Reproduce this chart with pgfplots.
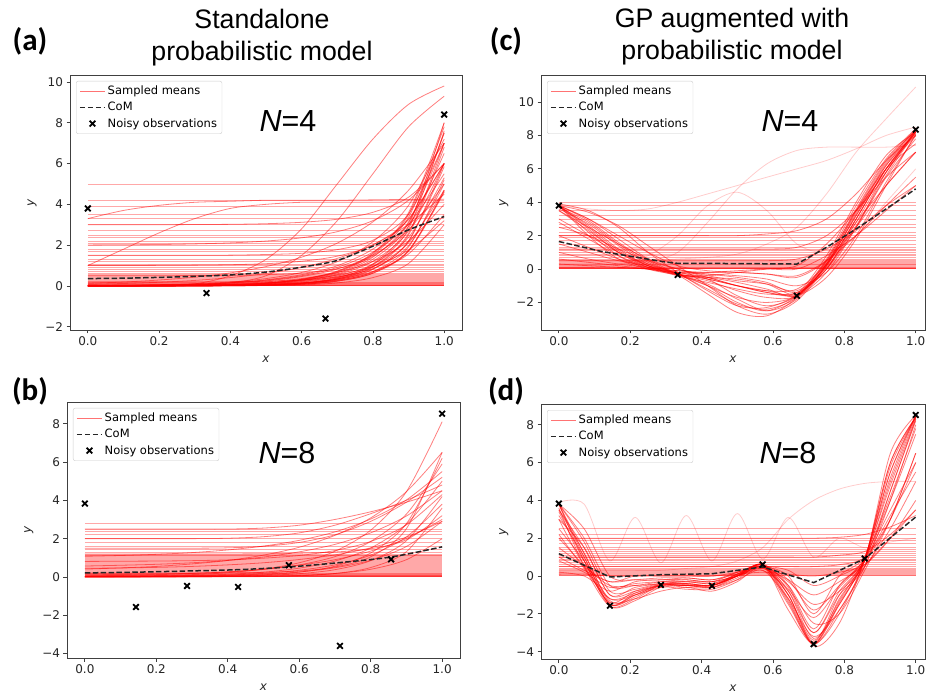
\documentclass[border=0pt]{standalone}
\usepackage{pgfplots}
\pgfplotsset{compat=1.18}
\usepackage{pgfplotstable}
\usepackage{fontspec}
\setmainfont{DejaVu Sans}
\newfontfamily\arial{Liberation Sans}
\newfontfamily\calib{Carlito}

% ---------- panel (a): standalone, N=4 ----------
\pgfplotstableread[header=false]{
0   0.02 0.02 0 0 0 0 0 0.02 0.01 0 0.05 0 0.01 0.08 0 0 0 0.01 1 2.01 0.5 3.3 0.13 1.5 3 0 0 1.0 0.02 0.2 0 0 0.05 0 0 0 0 0.01
0.1 0.03 0.02 0 0 0.01 0 0 0.03 0.02 0 0.05 0 0.02 0.12 0 0 0 0.01 1 2.02 0.5 3.7 0.19 1.5 3 0 0 1.8 0.03 0.2 0.01 0 0.05 0 0 0.01 0 0.02
0.2 0.05 0.03 0 0 0.01 0.01 0.01 0.05 0.05 0 0.05 0.01 0.04 0.18 0 0.01 0 0.03 1.01 2.03 0.5 3.95 0.29 1.5 3 0 0.01 2.6 0.06 0.2 0.01 0 0.05 0.01 0 0.01 0 0.03
0.3 0.1 0.05 0.01 0.01 0.03 0.03 0.02 0.09 0.08 0 0.05 0.02 0.08 0.27 0.01 0.01 0 0.05 1.02 2.06 0.51 4.1 0.43 1.5 3.01 0 0.02 3.3 0.11 0.2 0.03 0.01 0.05 0.02 0.01 0.03 0 0.06
0.4 0.5 0.15 0.02 0.02 0.06 0.06 0.05 0.16 0.15 0.01 0.06 0.04 0.14 0.41 0.02 0.03 0.01 0.09 1.04 2.11 0.52 4.15 0.64 1.51 3.02 0.01 0.05 3.8 0.19 0.21 0.07 0.02 0.06 0.04 0.02 0.06 0.01 0.11
0.5 1.3 0.5 0.05 0.05 0.14 0.13 0.12 0.3 0.28 0.03 0.08 0.08 0.25 0.61 0.04 0.06 0.02 0.16 1.09 2.2 0.55 4.2 0.95 1.54 3.05 0.03 0.11 4.0 0.36 0.23 0.14 0.05 0.09 0.1 0.05 0.14 0.03 0.2
0.6 2.8 1.5 0.14 0.14 0.31 0.29 0.27 0.55 0.5 0.08 0.13 0.19 0.46 0.91 0.11 0.14 0.05 0.29 1.21 2.36 0.63 4.2 1.41 1.6 3.12 0.09 0.25 4.1 0.66 0.29 0.33 0.13 0.15 0.22 0.12 0.32 0.08 0.36
0.7 5.0 3.2 0.4 0.38 0.68 0.64 0.59 0.99 0.91 0.24 0.28 0.43 0.83 1.35 0.3 0.32 0.15 0.53 1.46 2.66 0.85 4.2 2.1 1.78 3.27 0.26 0.55 4.1 1.19 0.44 0.73 0.35 0.34 0.48 0.34 0.71 0.23 0.66
0.8 7.2 5.5 1.08 1.03 1.52 1.41 1.31 1.81 1.66 0.63 0.67 0.95 1.51 2.02 0.81 0.71 0.41 0.96 2.01 3.2 1.45 4.22 3.14 2.24 3.61 0.7 1.21 4.1 2.17 0.85 1.62 0.95 0.83 1.07 0.92 1.58 0.62 1.2
0.9 8.9 7.8 2.94 2.8 3.37 3.14 2.92 3.29 3.02 1.73 1.74 2.11 2.75 3.02 2.21 1.57 1.1 1.76 3.25 4.2 3.08 4.24 4.69 3.52 4.35 1.91 2.69 4.1 3.95 1.97 3.59 2.58 2.18 2.38 2.5 3.5 1.69 2.2
1.0 9.8 9.3 8.0 7.6 7.5 7.0 6.5 6.0 5.5 4.7 4.65 4.7 5.0 4.5 6.0 3.5 3.0 3.2 6.0 6.0 7.5 4.25 7.0 7.0 6.0 5.2 6.0 4.1 7.2 5.0 8.0 7.0 5.85 5.3 6.8 7.8 4.6 4.0
}\tA
\pgfplotstableread[header=false]{
0 0.01 0.02 0.03 0.05 0.06 0.08 0.1 0.12 0.15 0.18 0.2 0.25 0.3 0.35 0.4 0.45 0.5 0.55 0.6 0.7 0.8 0.9 1.0 1.05 1.2 1.3 1.5 1.7 1.8 2.0 2.1 2.2 2.4 2.5 2.7 3.0 3.3 3.5 3.9 4.2 5.0
1 0.01 0.02 0.03 0.05 0.06 0.08 0.1 0.12 0.15 0.18 0.2 0.25 0.3 0.35 0.4 0.45 0.5 0.55 0.6 0.7 0.8 0.9 1.0 1.05 1.2 1.3 1.5 1.7 1.8 2.0 2.1 2.2 2.4 2.5 2.7 3.0 3.3 3.5 3.9 4.2 5.0
}\fA

% ---------- panel (b): standalone, N=8 ----------
\pgfplotstableread[header=false]{
0   0.02 0.41 0 1.08 0.01 0 0.01 0.57 2.5 1.5 0 0.01 0.2 2.0 0.05 0 0.81 1.2 0.11 0.45
0.1 0.04 0.47 0 1.12 0.02 0 0.01 0.61 2.5 1.5 0 0.02 0.2 2.0 0.08 0 0.82 1.2 0.13 0.47
0.2 0.07 0.55 0.01 1.18 0.04 0 0.02 0.66 2.5 1.5 0.01 0.03 0.2 2.0 0.12 0 0.83 1.2 0.15 0.5
0.3 0.12 0.68 0.02 1.27 0.08 0 0.04 0.74 2.5 1.5 0.02 0.06 0.2 2.0 0.18 0.01 0.85 1.2 0.19 0.55
0.4 0.22 0.86 0.05 1.41 0.14 0.01 0.08 0.86 2.5 1.52 0.03 0.1 0.22 2.02 0.27 0.02 0.89 1.2 0.26 0.63
0.5 0.41 1.14 0.11 1.61 0.25 0.02 0.15 1.04 2.55 1.6 0.08 0.19 0.24 2.1 0.41 0.04 0.98 1.21 0.39 0.74
0.6 0.74 1.55 0.25 1.91 0.46 0.06 0.26 1.31 2.7 1.8 0.17 0.35 0.31 2.3 0.61 0.08 1.12 1.24 0.63 0.91
0.7 1.34 2.17 0.56 2.35 0.83 0.18 0.48 1.7 3.0 2.2 0.38 0.63 0.52 2.7 0.9 0.18 1.38 1.3 1.06 1.15
0.8 2.44 3.08 1.25 3.02 1.51 0.49 0.87 2.3 3.4 2.9 0.85 1.14 1.05 3.3 1.35 0.4 1.85 1.47 1.85 1.52
0.9 4.45 4.45 2.78 4.02 2.75 1.32 1.59 3.18 3.9 3.9 1.89 2.09 2.52 4.0 2.01 0.9 2.72 1.94 3.28 2.08
1.0 8.1 6.5 6.2 5.5 5.0 3.6 2.9 4.5 4.5 5.2 4.2 3.8 6.5 4.8 3.0 2.0 4.3 3.2 5.9 2.9
}\tB
\pgfplotstableread[header=false]{
0 0.01 0.02 0.03 0.05 0.07 0.08 0.1 0.12 0.15 0.18 0.2 0.25 0.3 0.35 0.4 0.45 0.5 0.55 0.6 0.65 0.7 0.75 0.8 0.85 0.9 0.95 1.0 1.05 1.1 1.15 1.2 1.3 1.45 1.6 1.8 2.0 2.2 2.4 2.5 2.8
1 0.01 0.02 0.03 0.05 0.07 0.08 0.1 0.12 0.15 0.18 0.2 0.25 0.3 0.35 0.4 0.45 0.5 0.55 0.6 0.65 0.7 0.75 0.8 0.85 0.9 0.95 1.0 1.05 1.1 1.15 1.2 1.3 1.45 1.6 1.8 2.0 2.2 2.4 2.5 2.8
}\fB

% ---------- panel (c): GP augmented, N=4 ----------
\pgfplotstableread[header=false]{
0     3.8 3.8 3.7 3.9 3.5 3.8 3.0 2.0 3.8 1.0 3.8 0.3 0.2 0.5 3.8 2.5 3.8 0.1 1.5 0.3 3.8 0.5 1.2 2.0 3.5 3.8 3.6 2.8 3.8 0.6
0.083 2.6 3.0 2.8 3.5 2.3 2.0 2.0 1.3 2.9 0.6 3.4 0.3 0.2 0.5 3.6 2.0 2.5 0.1 1.0 0.2 3.0 0.5 1.2 2.0 2.5 2.2 2.7 1.8 2.4 0.4
0.167 1.2 1.8 1.5 2.5 1.0 0.6 1.0 0.6 1.6 0.3 2.6 0.3 0.3 0.5 3.5 1.2 1.1 0.1 0.5 0.1 2.0 0.5 1.2 2.0 1.5 0.8 1.4 0.8 1.0 0.2
0.25  0.2 0.6 0.4 1.0 0.1 0.0 0.3 0.1 0.5 0.1 1.4 0.5 0.8 0.5 3.6 0.5 0.2 0.0 0.2 0.0 1.0 0.5 1.2 2.0 0.6 0.0 0.3 0.1 0.2 0.0
0.333 -0.35 -0.3 -0.35 -0.2 -0.4 -0.2 -0.2 -0.2 -0.3 -0.1 0.2 1.0 2.0 0.6 4.0 0.0 -0.3 -0.1 -0.3 -0.2 0.2 0.5 1.2 2.0 0.0 -0.35 -0.3 -0.3 -0.35 -0.3
0.417 -0.5 -1.0 -1.5 -1.3 -0.8 -0.3 -0.6 -0.5 -0.4 -0.2 -1.0 2.8 3.8 0.7 4.5 -0.4 -0.9 -0.3 -1.0 -0.2 -0.1 0.5 1.2 2.0 -0.5 -0.7 -1.2 -0.6 -0.5 -0.6
0.5   -0.8 -1.7 -2.6 -2.2 -1.2 -0.4 -1.6 -1.0 -0.2 -0.2 -2.2 4.8 4.6 0.9 5.0 -0.7 -1.8 -0.5 -2.0 -0.1 -0.2 0.5 1.2 2.0 -1.0 -1.3 -2.1 -1.0 -0.6 -1.0
0.583 -1.2 -2.0 -2.8 -2.3 -1.5 -0.6 -2.2 -1.3 0.0 -0.3 -2.7 6.3 3.5 1.5 5.5 -0.9 -2.5 -0.8 -2.5 0.0 -0.3 0.5 1.2 2.1 -1.4 -1.7 -2.4 -1.4 -0.9 -1.3
0.667 -1.6 -1.6 -1.7 -1.5 -1.4 -1.0 -1.6 -1.2 0.2 -0.5 -1.9 7.1 1.5 2.5 6.0 -1.3 -1.8 -1.4 -1.6 0.0 -0.4 0.6 1.3 2.3 -1.6 -1.6 -1.7 -1.5 -1.55 -1.5
0.75  0.3 0.2 0.5 0.8 0.0 -0.2 0.5 0.3 1.5 0.5 0.2 7.3 1.0 4.5 6.5 0.1 0.3 0.0 0.6 0.8 0.5 1.2 2.0 3.0 -0.5 0.4 0.3 0.0 -0.2 0.2
0.833 3.2 3.0 3.6 4.0 2.5 2.0 3.5 2.8 3.5 2.5 3.3 7.3 2.0 7.0 7.2 2.6 3.2 3.0 3.8 2.0 2.0 2.3 3.5 4.5 1.8 3.4 3.5 2.8 2.5 3.0
0.917 6.2 6.0 6.5 6.8 5.5 5.2 6.0 5.0 5.8 5.0 6.2 7.3 4.0 9.0 8.0 5.6 6.0 6.0 6.6 3.5 3.8 3.8 5.5 6.5 5.0 6.3 6.4 5.8 5.8 6.0
1.0   8.3 8.2 8.3 8.2 7.8 8.0 7.5 7.0 8.3 7.0 8.1 7.4 6.0 10.9 8.5 8.2 8.0 8.2 8.4 5.0 5.5 5.0 7.0 8.0 8.1 8.4 8.3 8.2 8.3 8.3
}\tC
\pgfplotstableread[header=false]{
0 0.01 0.02 0.03 0.05 0.07 0.1 0.15 0.2 0.25 0.3 0.35 0.4 0.45 0.5 0.6 0.7 0.8 0.9 1.0 1.1 1.2 1.3 1.5 1.7 1.9 2.0 2.2 2.5 2.7 3.0 3.2 3.5 3.8 4.0
1 0.01 0.02 0.03 0.05 0.07 0.1 0.15 0.2 0.25 0.3 0.35 0.4 0.45 0.5 0.6 0.7 0.8 0.9 1.0 1.1 1.2 1.3 1.5 1.7 1.9 2.0 2.2 2.5 2.7 3.0 3.2 3.5 3.8 4.0
}\fC

% ---------- panel (d): GP augmented, N=8 ----------
\pgfplotstableread[header=false]{
0     3.8 3.6 3.5 3.8 2.5 1.5 3.8 0.8 3.0 3.9 0.3 3.4 1.0 2.0 0.2 3.8 3.2 0.1 0.5 2.0 3.8 3.0 3.8 1.0 2.2 3.5
0.071 1.0 0.5 1.5 2.0 0.8 0.5 1.2 0.2 0.6 3.8 0.3 0.8 1.0 2.0 0.0 2.5 1.0 0.1 0.5 0.5 1.8 1.5 0.8 0.3 0.4 1.2
0.143 -1.5 -1.6 -1.0 -0.5 -1.2 -0.5 -1.3 -0.6 -0.3 0.8 0.3 -1.6 1.0 2.0 -0.8 0.0 -1.5 0.0 0.5 -1.4 -0.8 -1.0 -1.5 -0.3 -1.2 -1.4
0.214 -0.9 -1.2 -0.6 -0.5 -1.0 -0.5 -1.2 -0.4 0.0 3.1 0.3 -1.3 1.0 2.0 -0.3 -0.2 -1.0 0.0 0.5 -0.8 -0.7 -0.8 -1.1 -0.2 -0.9 -1.0
0.286 -0.45 -0.5 -0.4 -0.3 -0.6 -0.4 -0.8 -0.3 0.0 0.7 0.3 -0.6 1.0 2.0 -0.2 -0.2 -0.5 0.0 0.5 -0.45 -0.4 -0.5 -0.5 -0.1 -0.5 -0.45
0.357 -0.4 -0.6 -0.3 -0.2 -0.5 -0.3 -0.6 -0.3 0.0 3.2 0.4 -0.7 1.0 2.0 -0.2 -0.1 -0.5 0.0 0.5 -0.5 -0.4 -0.4 -0.5 -0.1 -0.5 -0.45
0.429 -0.5 -0.6 -0.4 -0.3 -0.6 -0.3 -0.8 -0.4 0.0 0.8 0.5 -0.7 1.0 2.0 -0.3 -0.2 -0.5 0.0 0.5 -0.5 -0.5 -0.5 -0.6 -0.2 -0.5 -0.5
0.5   0.0 -0.1 0.1 0.2 -0.2 0.0 -0.3 0.0 0.2 3.3 0.8 -0.2 1.0 2.0 0.0 0.2 0.0 0.1 0.5 0.1 0.0 0.1 0.0 0.1 0.0 0.05
0.571 0.6 0.5 0.6 0.5 0.3 0.4 0.5 0.5 0.5 0.9 1.5 0.6 1.0 2.0 0.3 0.6 0.6 0.2 0.5 0.6 0.6 0.5 0.6 0.4 0.5 0.6
0.643 -1.0 -1.5 -0.5 0.0 -1.2 -0.5 -1.0 -0.3 0.3 3.1 3.0 -1.8 1.0 2.0 -0.8 -0.2 -1.3 0.1 0.5 -0.8 -0.6 -1.0 -1.4 -0.2 -0.7 -1.2
0.714 -3.5 -3.6 -2.8 -2.0 -3.2 -2.5 -3.7 -1.5 -0.5 1.0 4.0 -3.6 1.0 2.0 -3.0 -1.8 -3.6 0.0 0.5 -3.3 -3.0 -3.4 -3.6 -1.0 -2.2 -3.55
0.786 -1.0 -1.5 -0.5 0.0 -1.8 -2.0 -2.5 -0.8 0.0 2.0 4.6 -2.0 1.1 2.05 -1.0 -0.5 -1.2 0.2 0.6 -1.5 -0.8 -1.3 -1.8 -0.3 -0.6 -1.4
0.857 0.9 0.8 1.0 1.0 0.5 0.3 0.9 0.5 0.8 1.5 4.9 0.9 1.3 2.2 0.5 0.9 0.9 0.6 1.0 0.9 0.9 0.9 0.8 0.6 0.8 0.9
0.929 5.0 4.5 5.5 4.0 4.0 3.0 5.2 2.5 3.0 1.8 5.0 6.0 2.2 2.6 4.5 3.5 6.0 2.0 3.0 4.8 5.5 4.2 6.5 2.0 3.2 5.8
1.0   8.4 8.3 8.4 7.5 8.0 6.5 8.5 5.0 6.5 2.0 5.0 8.4 3.5 3.2 8.2 6.0 8.4 4.0 6.0 8.3 8.5 7.8 8.5 3.5 5.5 8.4
}\tD
\pgfplotstableread[header=false]{
0 0.02 0.05 0.1 0.15 0.2 0.25 0.3 0.35 0.4 0.5 0.6 0.7 0.8 0.9 1.0 1.1 1.2 1.3 1.4 1.5 1.7 1.9 2.0 2.2 2.5
1 0.02 0.05 0.1 0.15 0.2 0.25 0.3 0.35 0.4 0.5 0.6 0.7 0.8 0.9 1.0 1.1 1.2 1.3 1.4 1.5 1.7 1.9 2.0 2.2 2.5
}\fD

\pgfplotsset{
  gpanel/.style={
    scale only axis,
    axis line style={black!75, line width=0.8pt},
    tick style={black!75, line width=0.8pt},
    tick align=outside, major tick length=3.5pt,
    tick pos=left,
    /pgf/number format/assume math mode=true,
    ticklabel style={font=\fontsize{12}{14}\selectfont, text=black!85},
    xtick={0,0.2,0.4,0.6,0.8,1}, xticklabels={0.0,0.2,0.4,0.6,0.8,1.0},
    xlabel={\itshape x}, ylabel={\itshape y},
    every axis x label/.style={at={(axis description cs:0.5,-0.114)}, anchor=center, font=\fontsize{12}{14}\selectfont, text=black!85},
    every axis y label/.style={at={(axis description cs:-0.097,0.5)}, anchor=center, rotate=90, font=\fontsize{12}{14}\selectfont, text=black!85},
    legend style={at={(0,1)}, anchor=north west, xshift=6pt, yshift=-6pt,
      font=\fontsize{11.5}{13}\selectfont, draw=black!20, fill=white,
      fill opacity=0.8, text opacity=1, rounded corners=2pt,
      row sep=2pt, inner sep=3pt, cells={anchor=west}},
    legend image code/.code={\draw[mark repeat=2,mark phase=2,##1] plot coordinates {(0pt,0pt) (12.5pt,0pt) (25pt,0pt)};},
  },
  flat/.style={red, opacity=0.34, line width=0.8pt, forget plot},
  curve/.style={red, opacity=0.5, line width=0.8pt, smooth, forget plot},
  lcurve/.style={red, opacity=0.2, line width=0.8pt, smooth, forget plot},
  com/.style={black!85, line width=1.5pt, dash pattern=on 5.5pt off 2.4pt, forget plot},
  obs/.style={only marks, mark=x, mark size=4pt, black, line width=1.8pt, forget plot},
}

\newcommand\legendstuff{%
  \addlegendimage{red!55, line width=1pt}
  \addlegendentry{Sampled means}
  \addlegendimage{black!85, line width=1.5pt, dash pattern=on 5.5pt off 2.4pt}
  \addlegendentry{CoM}
  \addlegendimage{only marks, mark=x, mark size=4pt, black, line width=1.8pt}
  \addlegendentry{Noisy observations}
}

\begin{document}
\begin{tikzpicture}
\useasboundingbox (0pt,0pt) rectangle (926pt,694pt);

% (a)
\begin{axis}[gpanel, at={(70pt,364pt)}, anchor=south west, width=392pt, height=255pt,
  xmin=-0.05, xmax=1.05, ymin=-2.16, ymax=10.34,
  ytick={-2,0,2,4,6,8,10}, yticklabels={−2,0,2,4,6,8,10}]
\pgfplotsinvokeforeach{1,...,41}{\addplot[flat] table[x index=0,y index=#1]{\fA};}
\pgfplotsinvokeforeach{1,...,38}{\addplot[curve] table[x index=0,y index=#1]{\tA};}
\addplot[com, smooth] coordinates {(0,0.36) (0.1,0.38) (0.2,0.42) (0.3,0.47) (0.4,0.54) (0.5,0.68) (0.6,0.92) (0.7,1.25) (0.8,1.95) (0.9,2.75) (1,3.4)};
\addplot[obs] coordinates {(0,3.8) (0.333,-0.35) (0.667,-1.6) (1,8.4)};
\legendstuff
\end{axis}

% (c)
\begin{axis}[gpanel, at={(541pt,364pt)}, anchor=south west, width=384pt, height=255pt,
  xmin=-0.05, xmax=1.026, ymin=-3.65, ymax=11.62,
  ytick={-2,0,2,4,6,8,10}, yticklabels={−2,0,2,4,6,8,10}]
\pgfplotsinvokeforeach{1,...,34}{\addplot[flat] table[x index=0,y index=#1]{\fC};}
\pgfplotsinvokeforeach{1,2,3,4,5,6,7,8,9,10,11,16,17,18,19,20,21,22,23,24,25,26,27,28,29,30}{\addplot[curve] table[x index=0,y index=#1]{\tC};}
\pgfplotsinvokeforeach{12,13,14,15}{\addplot[lcurve] table[x index=0,y index=#1]{\tC};}
\addplot[com] coordinates {(0,1.65) (0.12,1.05) (0.29,0.45) (0.333,0.34) (0.5,0.33) (0.667,0.3) (0.75,1.3) (0.833,2.4) (0.917,3.6) (1,4.8)};
\addplot[obs] coordinates {(0,3.8) (0.333,-0.35) (0.667,-1.6) (1,8.35)};
\legendstuff
\end{axis}

% (b)
\begin{axis}[gpanel, at={(67pt,36pt)}, anchor=south west, width=393pt, height=256pt,
  xmin=-0.05, xmax=1.05, ymin=-4.23, ymax=9.13,
  ytick={-4,-2,0,2,4,6,8}, yticklabels={−4,−2,0,2,4,6,8}]
\pgfplotsinvokeforeach{1,...,40}{\addplot[flat] table[x index=0,y index=#1]{\fB};}
\pgfplotsinvokeforeach{1,...,20}{\addplot[curve] table[x index=0,y index=#1]{\tB};}
\addplot[com, smooth] coordinates {(0,0.21) (0.143,0.25) (0.286,0.31) (0.429,0.38) (0.571,0.52) (0.714,0.75) (0.857,1.04) (1,1.57)};
\addplot[obs] coordinates {(0,3.83) (0.143,-1.57) (0.286,-0.47) (0.429,-0.52) (0.571,0.61) (0.714,-3.6) (0.857,0.92) (1,8.52)};
\legendstuff
\end{axis}

% (d)
\begin{axis}[gpanel, at={(541pt,35pt)}, anchor=south west, width=384pt, height=255pt,
  xmin=-0.05, xmax=1.026, ymin=-4.39, ymax=9.1,
  ytick={-4,-2,0,2,4,6,8}, yticklabels={−4,−2,0,2,4,6,8}]
\pgfplotsinvokeforeach{1,...,25}{\addplot[flat] table[x index=0,y index=#1]{\fD};}
\pgfplotsinvokeforeach{1,2,3,4,5,6,7,8,9,12,13,14,15,16,17,18,19,20,21,22,23,24,25,26}{\addplot[curve] table[x index=0,y index=#1]{\tD};}
\pgfplotsinvokeforeach{10,11}{\addplot[lcurve] table[x index=0,y index=#1]{\tD};}
\addplot[com] coordinates {(0,1.18) (0.143,-0.05) (0.286,0.07) (0.429,0.12) (0.571,0.48) (0.714,-0.35) (0.857,0.92) (1,3.12)};
\addplot[obs] coordinates {(0,3.83) (0.143,-1.57) (0.286,-0.47) (0.429,-0.52) (0.571,0.61) (0.714,-3.6) (0.857,0.92) (1,8.52)};
\legendstuff
\end{axis}

% titles
\node[font=\arial\fontsize{26.7}{30}\selectfont, anchor=base] at (262pt,665pt) {Standalone};
\node[font=\arial\fontsize{26.7}{30}\selectfont, anchor=base] at (262pt,633pt) {probabilistic model};
\node[font=\arial\fontsize{26.7}{30}\selectfont, anchor=base] at (732pt,666pt) {GP augmented with};
\node[font=\arial\fontsize{26.7}{30}\selectfont, anchor=base] at (732pt,634pt) {probabilistic model};
% panel letters
\node[font=\calib\bfseries\fontsize{31}{34}\selectfont] at (30pt,653pt) {(a)};
\node[font=\calib\bfseries\fontsize{31}{34}\selectfont] at (506pt,653pt) {(c)};
\node[font=\calib\bfseries\fontsize{31}{34}\selectfont] at (30pt,303pt) {(b)};
\node[font=\calib\bfseries\fontsize{31}{34}\selectfont] at (506pt,303pt) {(d)};
% N labels
\node[font=\arial\fontsize{30.5}{34}\selectfont, anchor=base] at (288pt,562pt) {\textit{N}=4};
\node[font=\arial\fontsize{30.5}{34}\selectfont, anchor=base] at (790pt,562pt) {\textit{N}=4};
\node[font=\arial\fontsize{30.5}{34}\selectfont, anchor=base] at (287pt,230pt) {\textit{N}=8};
\node[font=\arial\fontsize{30.5}{34}\selectfont, anchor=base] at (788pt,230pt) {\textit{N}=8};
\end{tikzpicture}
\end{document}
